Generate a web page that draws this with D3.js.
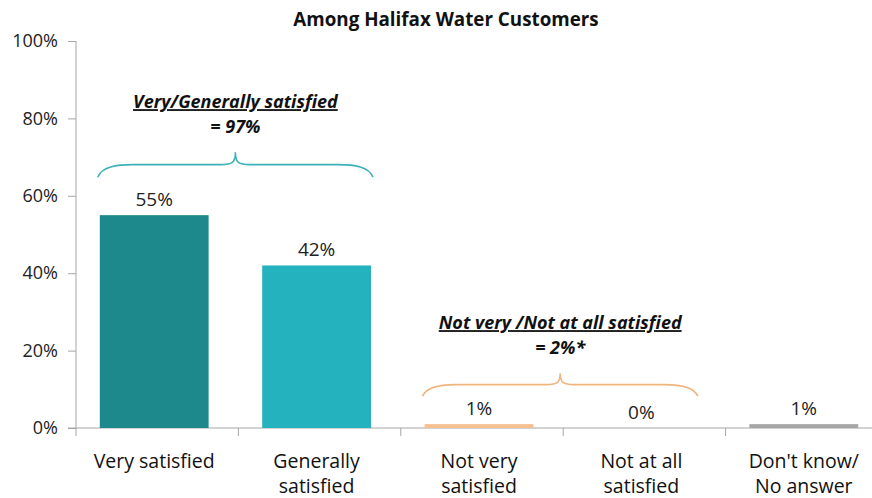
<!DOCTYPE html>
<html>
<head>
<meta charset="utf-8">
<script src="https://cdn.jsdelivr.net/npm/d3@7"></script>
<style>
  html, body { margin: 0; padding: 0; background: #ffffff; }
  svg { display: block; font-family: "Open Sans", "Noto Sans", sans-serif; }
</style>
</head>
<body>
<svg id="chart" width="872" height="498"></svg>
<script>
// Satisfaction responses (percent of customers)
const categories = [
  ["Very satisfied"],
  ["Generally", "satisfied"],
  ["Not very", "satisfied"],
  ["Not at all", "satisfied"],
  ["Don't know/", "No answer"]
];
const values = [55, 42, 1, 0, 1];
const barColors = ["#1e898c", "#24b2be", "#f5bf91", "#f5bf91", "#a6a6a6"];
const yTicks = [0, 20, 40, 60, 80, 100];

// Grouped totals shown above the braces
const groupTitles = ["Very/Generally satisfied", "Not very /Not at all satisfied"];
const groupTotals = ["= 97%", "= 2%*"];
const groupRanges = [[0, 1], [2, 3]];
const groupColors = ["#3fb0b5", "#f2b47e"];

const svg = d3.select("#chart");
const plotLeft = 76;
const plotRight = 888;
const plotTop = 41;
const plotBottom = 428;

// Bars sit slightly left of centre within each category slot
const x = d3.scaleBand()
  .domain(d3.range(categories.length))
  .range([plotLeft - 3, plotRight - 3])
  .paddingInner(0.33)
  .paddingOuter(0.165);

const y = d3.scaleLinear().domain([0, 100]).range([plotBottom, plotTop]);

const axisColor = "#a6a6a6";

// Title
svg.append("text")
  .attr("x", 446).attr("y", 26)
  .attr("text-anchor", "middle")
  .attr("font-weight", "bold")
  .attr("font-size", 18.8)
  .attr("fill", "#111")
  .text("Among Halifax Water Customers");

// Y axis
const yAxis = d3.axisLeft(y)
  .tickValues(yTicks)
  .tickFormat(d => d + "%")
  .tickSize(8)
  .tickPadding(10);

const gy = svg.append("g")
  .attr("transform", `translate(${plotLeft},0)`)
  .call(yAxis);
gy.select(".domain").attr("stroke", axisColor).attr("d", `M0,${y(100)}V${plotBottom}`);
gy.selectAll(".tick line").attr("stroke", axisColor);
gy.selectAll(".tick text")
  .attr("font-size", 18)
  .attr("fill", "#222")
  .attr("font-family", "'Open Sans', sans-serif");

// X axis baseline and category separators
const band = (plotRight - plotLeft) / categories.length;
svg.append("line")
  .attr("x1", plotLeft - 8).attr("x2", 872)
  .attr("y1", plotBottom).attr("y2", plotBottom)
  .attr("stroke", axisColor);
svg.selectAll(".sep")
  .data(d3.range(categories.length + 1))
  .join("line")
  .attr("class", "sep")
  .attr("x1", i => plotLeft + i * band)
  .attr("x2", i => plotLeft + i * band)
  .attr("y1", plotBottom).attr("y2", plotBottom + 8)
  .attr("stroke", axisColor);

// Bars
svg.selectAll(".bar")
  .data(values)
  .join("rect")
  .attr("class", "bar")
  .attr("x", (d, i) => x(i))
  .attr("width", x.bandwidth())
  .attr("y", d => y(d))
  .attr("height", d => plotBottom - y(d))
  .attr("fill", (d, i) => barColors[i]);

// Value labels
svg.selectAll(".val")
  .data(values)
  .join("text")
  .attr("class", "val")
  .attr("x", (d, i) => x(i) + x.bandwidth() / 2)
  .attr("y", d => y(d) - 9)
  .attr("text-anchor", "middle")
  .attr("font-size", 19)
  .attr("fill", "#222")
  .text(d => d + "%");

// Category labels
const catG = svg.selectAll(".cat")
  .data(categories)
  .join("text")
  .attr("class", "cat")
  .attr("x", (d, i) => x(i) + x.bandwidth() / 2)
  .attr("y", 468)
  .attr("text-anchor", "middle")
  .attr("font-size", 19.5)
  .attr("fill", "#111");
catG.selectAll("tspan")
  .data(d => d)
  .join("tspan")
  .attr("x", function () { return d3.select(this.parentNode).attr("x"); })
  .attr("dy", (d, j) => j === 0 ? 0 : 25)
  .text(d => d);

// Curly brace spanning two bars
function bracePath(x0, x1, yTop, h) {
  const mid = (x0 + x1) / 2;
  const yh = yTop + h * 0.5;   // horizontal run
  const yEnd = yTop + h;       // tips
  const r = h * 0.5;
  return `M${x0},${yEnd}` +
    `C${x0 + 4},${yh + 2} ${x0 + r + 6},${yh} ${x0 + r * 2 + 10},${yh}` +
    `L${mid - r * 1.2},${yh}` +
    `C${mid - 3},${yh} ${mid},${yh - 2} ${mid},${yTop}` +
    `C${mid},${yh - 2} ${mid + 3},${yh} ${mid + r * 1.2},${yh}` +
    `L${x1 - r * 2 - 10},${yh}` +
    `C${x1 - r - 6},${yh} ${x1 - 4},${yh + 2} ${x1},${yEnd}`;
}

// Gap between the tallest bar of a group and the brace tips
const braceGap = [38, 28];
const braceHeight = [25, 23];

groupRanges.forEach(([from, to], gi) => {
  const x0 = x(from) - 2;
  const x1 = x(to) + x.bandwidth() + 2;
  const mid = (x0 + x1) / 2;
  const topVal = d3.max(values.slice(from, to + 1));
  const yEnd = y(topVal) - braceGap[gi];
  const h = braceHeight[gi];
  const peak = yEnd - h;
  svg.append("path")
    .attr("d", bracePath(x0, x1, peak, h))
    .attr("fill", "none")
    .attr("stroke", groupColors[gi])
    .attr("stroke-width", 1.6);
  svg.append("text")
    .attr("x", mid).attr("y", peak - 44)
    .attr("text-anchor", "middle")
    .attr("font-weight", "bold")
    .attr("font-style", "italic")
    .attr("font-size", 18)
    .attr("fill", "#111")
    .attr("text-decoration", "underline")
    .text(groupTitles[gi]);
  svg.append("text")
    .attr("x", mid).attr("y", peak - 19)
    .attr("text-anchor", "middle")
    .attr("font-weight", "bold")
    .attr("font-style", "italic")
    .attr("font-size", 18)
    .attr("fill", "#111")
    .text(groupTotals[gi]);
});
</script>
</body>
</html>
